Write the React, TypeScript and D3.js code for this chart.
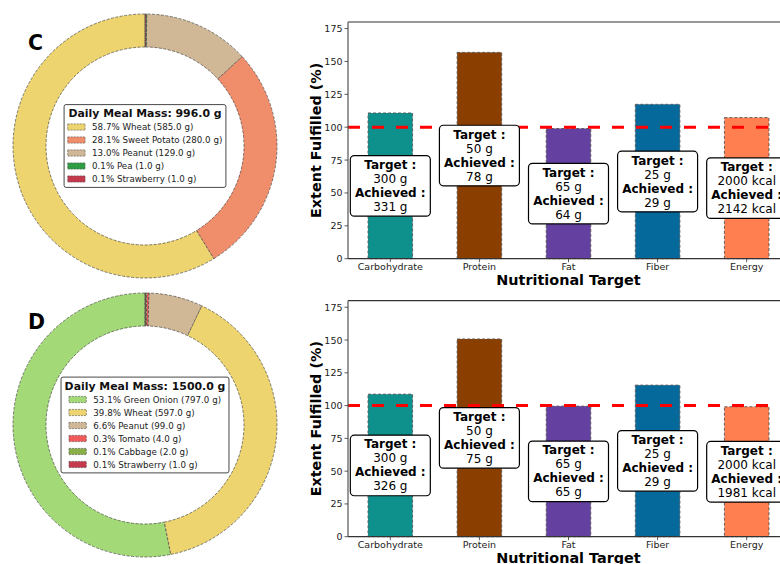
import React from "react";
import * as d3 from "d3";

const FONT = "DejaVu Sans, Verdana, sans-serif";

// Donut data
const C_FOODS = ["Wheat", "Sweet Potato", "Peanut", "Pea", "Strawberry"];
const C_MASS = [585, 280, 129, 1, 1];
const C_COLORS = ["#EDD46F", "#F08E6B", "#D0B796", "#2E9E44", "#C43A4C"];

const D_FOODS = ["Green Onion", "Wheat", "Peanut", "Tomato", "Cabbage", "Strawberry"];
const D_MASS = [797, 597, 99, 4, 2, 1];
const D_COLORS = ["#A3D977", "#EDD46F", "#D0B796", "#F05A5A", "#8AAE48", "#C43A4C"];

// Bar data
const CATEGORIES = ["Carbohydrate", "Protein", "Fat", "Fiber", "Energy"];
const UNITS = ["g", "g", "g", "g", "kcal"];
const TARGETS = [300, 50, 65, 25, 2000];
const C_ACHIEVED = [331, 78, 64, 29, 2142];
const D_ACHIEVED = [326, 75, 65, 29, 1981];
const C_FULFILLED = [110.8, 156.9, 99.0, 117.4, 107.3];
const D_FULFILLED = [108.7, 150.8, 99.6, 115.6, 99.1];
const BAR_COLORS = ["#0E918C", "#8A3F00", "#6440A0", "#06699B", "#FF7F50"];
const Y_TICKS = [0, 25, 50, 75, 100, 125, 150, 175];

let ctx: CanvasRenderingContext2D | null = null;
function measure(text: string, size: number, bold: boolean): number {
  if (!ctx) {
    const c = document.createElement("canvas");
    ctx = c.getContext("2d");
  }
  if (!ctx) return text.length * size * 0.6;
  ctx.font = `${bold ? "bold " : ""}${size}px DejaVu Sans`;
  return ctx.measureText(text).width;
}

function Donut({ cx, cy, foods, mass, colors, label }: any) {
  const r = 132;
  const total = d3.sum(mass as number[]);
  const pie = d3
    .pie<number>()
    .sort(null)
    .value((d) => d)
    .startAngle(0)
    .endAngle(-2 * Math.PI);
  const arcs = pie(mass);
  const arc = d3.arc<d3.PieArcDatum<number>>().innerRadius(r * 0.75).outerRadius(r);

  const titleSize = 10.9;
  const itemSize = 8.7;
  const title = `Daily Meal Mass: ${total.toFixed(1)} g`;
  const items = (foods as string[]).map(
    (f, i) => `${((mass[i] / total) * 100).toFixed(1)}% ${f} (${mass[i].toFixed(1)} g)`
  );
  const titleW = measure(title, titleSize, true);
  const swW = 17.4;
  const gap = 7;
  const entriesW = swW + gap + d3.max(items.map((t) => measure(t, itemSize, false)))!;
  const innerW = Math.max(titleW, entriesW);
  const pad = 3.6;
  const boxW = innerW + 2 * pad;
  const n = items.length;
  const boxH = 22.4 + 13 * (n - 1) + 8.4;
  const bx = cx - boxW / 2;
  const by = cy - boxH / 2;
  const entriesX = bx + pad + (innerW - entriesW) / 2;

  return (
    <g>
      <g transform={`translate(${cx},${cy})`}>
        {arcs.map((a, i) => (
          <path
            key={i}
            d={arc(a) || ""}
            fill={colors[i]}
            stroke="#4a4a4a"
            strokeWidth={0.7}
            strokeDasharray="3,1.5"
          />
        ))}
      </g>
      <rect x={bx} y={by} width={boxW} height={boxH} rx={2} fill="white" stroke="#333" strokeWidth={0.9} />
      <text
        x={cx}
        y={by + 8.9}
        textAnchor="middle"
        dominantBaseline="central"
        fontFamily={FONT}
        fontWeight="bold"
        fontSize={titleSize}
        fill="#111"
      >
        {title}
      </text>
      {items.map((t, i) => {
        const ry = by + 22.4 + 13 * i;
        return (
          <g key={i}>
            <rect
              x={entriesX}
              y={ry - 3.1}
              width={swW}
              height={6.2}
              fill={colors[i]}
              stroke="#555"
              strokeWidth={0.6}
              strokeDasharray="2,1"
            />
            <text
              x={entriesX + swW + gap}
              y={ry}
              dominantBaseline="central"
              fontFamily={FONT}
              fontSize={itemSize}
              fill="#222"
            >
              {t}
            </text>
          </g>
        );
      })}
      <text x={28} y={cy - 96} fontFamily={FONT} fontWeight="bold" fontSize={20.5} fill="#000">
        {label}
      </text>
    </g>
  );
}

function Bars({ top, bottom, fulfilled, achieved, clipId }: any) {
  const left = 348;
  const right = 789;
  const x = d3.scaleLinear().domain([-0.475, 4.475]).range([left, right]);
  const y = d3.scaleLinear().domain([0, 180]).range([bottom, top]);
  const tickSize = 9.5;
  return (
    <g>
      {CATEGORIES.map((c, i) => (
        <rect
          key={c}
          x={x(i - 0.25)}
          y={y(fulfilled[i])}
          width={x(i + 0.25) - x(i - 0.25)}
          height={y(0) - y(fulfilled[i])}
          fill={BAR_COLORS[i]}
          stroke="#555"
          strokeWidth={0.9}
          strokeDasharray="3,2"
        />
      ))}
      <line
        x1={left}
        x2={right}
        y1={y(100)}
        y2={y(100)}
        stroke="#FF0000"
        strokeWidth={3}
        strokeDasharray="12,12"
      />
      {CATEGORIES.map((c, i) => {
        const cx = x(i);
        const cy = y(fulfilled[i] / 2);
        const lines = [
          { t: "Target :", b: true },
          { t: `${TARGETS[i]} ${UNITS[i]}`, b: false },
          { t: "Achieved :", b: true },
          { t: `${achieved[i]} ${UNITS[i]}`, b: false },
        ];
        const offs = [-21, -7, 7, 21];
        return (
          <g key={c}>
            <rect x={cx - 40} y={cy - 30.3} width={80} height={60.6} rx={4} fill="white" stroke="#000" strokeWidth={1.2} />
            {lines.map((l, j) => (
              <text
                key={j}
                x={cx}
                y={cy + offs[j]}
                textAnchor="middle"
                dominantBaseline="central"
                fontFamily={FONT}
                fontWeight={l.b ? "bold" : "normal"}
                fontSize={12}
                fill="#000"
              >
                {l.t}
              </text>
            ))}
          </g>
        );
      })}
      {/* spines */}
      <line x1={left} x2={right} y1={top} y2={top} stroke="#333" strokeWidth={1.2} />
      <line x1={left} x2={right} y1={bottom} y2={bottom} stroke="#333" strokeWidth={1.2} />
      <line x1={left} x2={left} y1={top} y2={bottom} stroke="#555" strokeWidth={1.2} />
      {Y_TICKS.map((t) => (
        <g key={t}>
          <line x1={left - 3.5} x2={left} y1={y(t)} y2={y(t)} stroke="#333" strokeWidth={0.8} />
          <text
            x={left - 5.5}
            y={y(t)}
            textAnchor="end"
            dominantBaseline="central"
            fontFamily={FONT}
            fontSize={tickSize}
            fill="#222"
          >
            {t}
          </text>
        </g>
      ))}
      {CATEGORIES.map((c, i) => (
        <g key={c}>
          <line x1={x(i)} x2={x(i)} y1={bottom} y2={bottom + 3.5} stroke="#333" strokeWidth={0.8} />
          <text x={x(i)} y={bottom + 11} textAnchor="middle" fontFamily={FONT} fontSize={tickSize} fill="#222">
            {c}
          </text>
        </g>
      ))}
      <text
        x={(left + right) / 2}
        y={bottom + 26.5}
        textAnchor="middle"
        fontFamily={FONT}
        fontWeight="bold"
        fontSize={14.4}
        fill="#000"
      >
        Nutritional Target
      </text>
      <text
        transform={`translate(${321},${(top + bottom) / 2}) rotate(-90)`}
        textAnchor="middle"
        fontFamily={FONT}
        fontWeight="bold"
        fontSize={14.4}
        fill="#000"
      >
        Extent Fulfilled (%)
      </text>
    </g>
  );
}

export default function App() {
  return (
    <svg
      width={780}
      height={564}
      style={{ position: "absolute", left: 0, top: 0, background: "white" }}
    >
      <rect width={780} height={564} fill="white" />
      <Donut cx={145} cy={146} foods={C_FOODS} mass={C_MASS} colors={C_COLORS} label="C" />
      <Donut cx={145} cy={425} foods={D_FOODS} mass={D_MASS} colors={D_COLORS} label="D" />
      <Bars top={22} bottom={258.7} fulfilled={C_FULFILLED} achieved={C_ACHIEVED} />
      <Bars top={300.7} bottom={536.7} fulfilled={D_FULFILLED} achieved={D_ACHIEVED} />
    </svg>
  );
}
